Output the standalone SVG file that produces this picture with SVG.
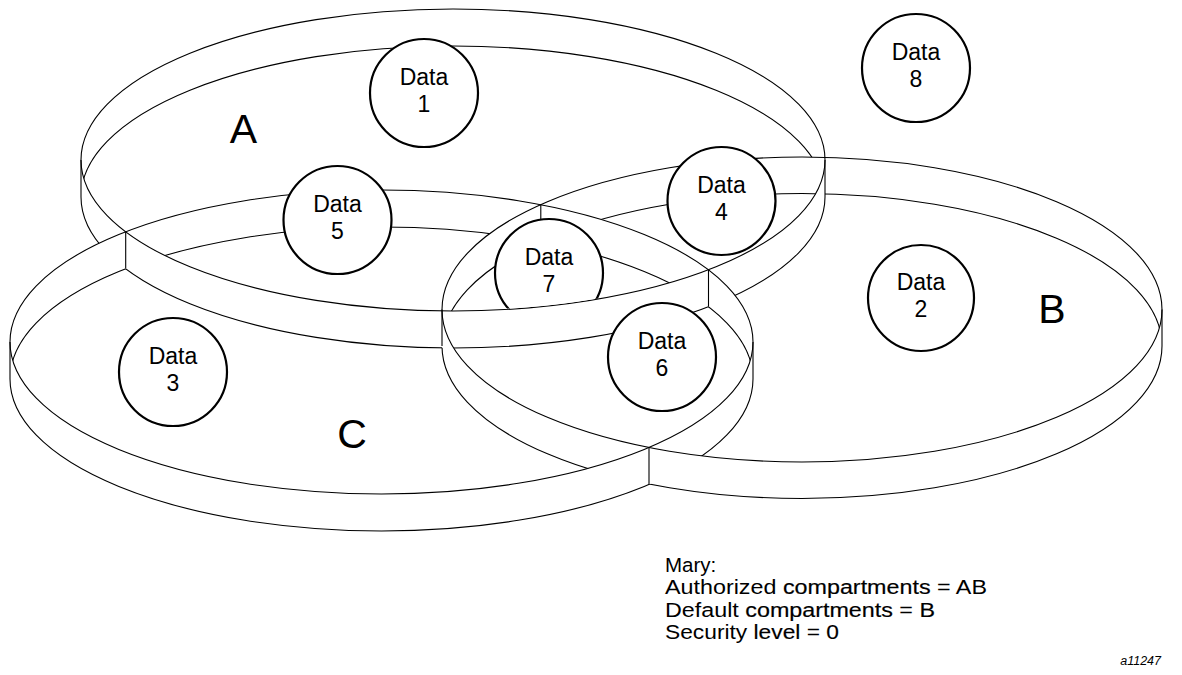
<svg xmlns="http://www.w3.org/2000/svg" width="1182" height="675" viewBox="0 0 1182 675">
<style>
.ln{fill:none;stroke:#000;stroke-width:1.1}
.dc{fill:#fff;stroke:#000;stroke-width:2.2}
.dt{font-family:"Liberation Sans",Arial,sans-serif;font-size:23px;text-anchor:middle;fill:#000}
.lb{font-family:"Liberation Sans",Arial,sans-serif;font-size:41px;text-anchor:middle;fill:#000}
.nt{font-family:"Liberation Sans",Arial,sans-serif;font-size:20.5px;fill:#000}
.hv{stroke:#000;stroke-width:0.18}
.fig{font-family:"Liberation Sans",Arial,sans-serif;font-size:12.5px;font-style:italic;fill:#000}
</style>
<defs>
<clipPath id="cA"><ellipse cx="453" cy="160" rx="372" ry="151"/></clipPath>
<clipPath id="cB"><ellipse cx="802" cy="309.5" rx="360" ry="152.5"/></clipPath>
<clipPath id="cC"><ellipse cx="381.5" cy="342" rx="371.5" ry="152"/></clipPath>
<clipPath id="cD7"><path d="M81,160 A372,150.4 0 0 0 825,160 L825,0 L81,0 Z"/></clipPath>
<mask id="mA" maskUnits="userSpaceOnUse" x="0" y="0" width="1182" height="675">
<rect width="1182" height="675" fill="#fff"/>
<path d="M81,160 A372,151 0 0 1 825,160 L825,197 A372,151 0 0 1 81,197 Z" fill="#000"/>
<ellipse cx="453" cy="197" rx="372" ry="151" fill="#fff" clip-path="url(#cA)"/>
</mask>
<mask id="mB" maskUnits="userSpaceOnUse" x="0" y="0" width="1182" height="675">
<rect width="1182" height="675" fill="#fff"/>
<path d="M442,309.5 A360,152.5 0 0 1 1162,309.5 L1162,346 A360,152.5 0 0 1 442,346 Z" fill="#000"/>
<ellipse cx="802" cy="346" rx="360" ry="152.5" fill="#fff" clip-path="url(#cB)"/>
</mask>
<mask id="mC" maskUnits="userSpaceOnUse" x="0" y="0" width="1182" height="675">
<rect width="1182" height="675" fill="#fff"/>
<path d="M10,342 A371.5,152 0 0 1 753,342 L753,379 A371.5,152 0 0 1 10,379 Z" fill="#000"/>
<ellipse cx="381.5" cy="379" rx="371.5" ry="152" fill="#fff" clip-path="url(#cC)"/>
</mask>
</defs>
<rect width="1182" height="675" fill="#fff"/>

<g id="disk-A">
<ellipse class="ln" cx="453" cy="160" rx="372" ry="151"/>
<path class="ln" d="M81,160 V197 M825,160 V197"/>
<g mask="url(#mB)"><g mask="url(#mC)">
<path class="ln" clip-path="url(#cA)" d="M81,197 A372,151 0 0 1 825,197"/>
<path class="ln" d="M825,197 A372,151 0 0 1 81,197"/>
</g></g>
<text class="lb" x="243.5" y="143">A</text>
</g>

<g id="disk-B">
<ellipse class="ln" cx="802" cy="309.5" rx="360" ry="152.5"/>
<path class="ln" d="M442,309.5 V346 M1162,309.5 V346"/>
<g mask="url(#mA)"><g mask="url(#mC)">
<path class="ln" clip-path="url(#cB)" d="M442,346 A360,152.5 0 0 1 1162,346"/>
<path class="ln" d="M1162,346 A360,152.5 0 0 1 442,346"/>
</g></g>
<text class="lb" x="1052" y="323">B</text>
</g>

<g id="disk-C">
<ellipse class="ln" cx="381.5" cy="342" rx="371.5" ry="152"/>
<path class="ln" d="M10,342 V379 M753,342 V379"/>
<g mask="url(#mA)"><g mask="url(#mB)">
<path class="ln" clip-path="url(#cC)" d="M10,379 A371.5,152 0 0 1 753,379"/>
<path class="ln" d="M753,379 A371.5,152 0 0 1 10,379"/>
</g></g>
<text class="lb" x="352" y="448">C</text>
</g>

<g id="wall-intersections">
<path class="ln" d="M125.7,231.8 V268.8 M708.5,269.7 V306.7 M540.8,204.6 V241.6 M649,447.5 V484.5"/>
</g>

<g id="data-1"><circle class="dc" cx="424" cy="93" r="54"/><text class="dt" x="424" y="85">Data</text><text class="dt" x="424" y="112">1</text></g>
<g id="data-2"><circle class="dc" cx="921" cy="298" r="53"/><text class="dt" x="921" y="290">Data</text><text class="dt" x="921" y="317">2</text></g>
<g id="data-3"><circle class="dc" cx="173" cy="372" r="54"/><text class="dt" x="173" y="364">Data</text><text class="dt" x="173" y="391">3</text></g>
<g id="data-4"><circle class="dc" cx="721.5" cy="201" r="54"/><text class="dt" x="721.5" y="193">Data</text><text class="dt" x="721.5" y="220">4</text></g>
<g id="data-5"><circle class="dc" cx="337.5" cy="220" r="54"/><text class="dt" x="337.5" y="212">Data</text><text class="dt" x="337.5" y="239">5</text></g>
<g id="data-6"><circle class="dc" cx="662" cy="357" r="54"/><text class="dt" x="662" y="349">Data</text><text class="dt" x="662" y="376">6</text></g>
<g id="data-7"><circle class="dc" cx="549" cy="273" r="54" clip-path="url(#cD7)"/><text class="dt" x="549" y="265">Data</text><text class="dt" x="549" y="292">7</text></g>
<g id="data-8"><circle class="dc" cx="916" cy="68" r="54"/><text class="dt" x="916" y="60">Data</text><text class="dt" x="916" y="87">8</text></g>

<g id="legend">
<text class="nt" x="665" y="572">Mary:</text>
<text class="nt" x="665" y="594.3" textLength="322" lengthAdjust="spacingAndGlyphs">Authorized <tspan class="hv">compartments</tspan> = AB</text>
<text class="nt" x="665" y="616.6" textLength="270" lengthAdjust="spacingAndGlyphs">Default <tspan class="hv">compartments</tspan> = <tspan class="hv">B</tspan></text>
<text class="nt" x="665" y="638.9" textLength="174" lengthAdjust="spacingAndGlyphs">Security <tspan class="hv">level</tspan> = <tspan class="hv">0</tspan></text>
<text class="fig" x="1161" y="665" text-anchor="end">a11247</text>
</g>
</svg>
